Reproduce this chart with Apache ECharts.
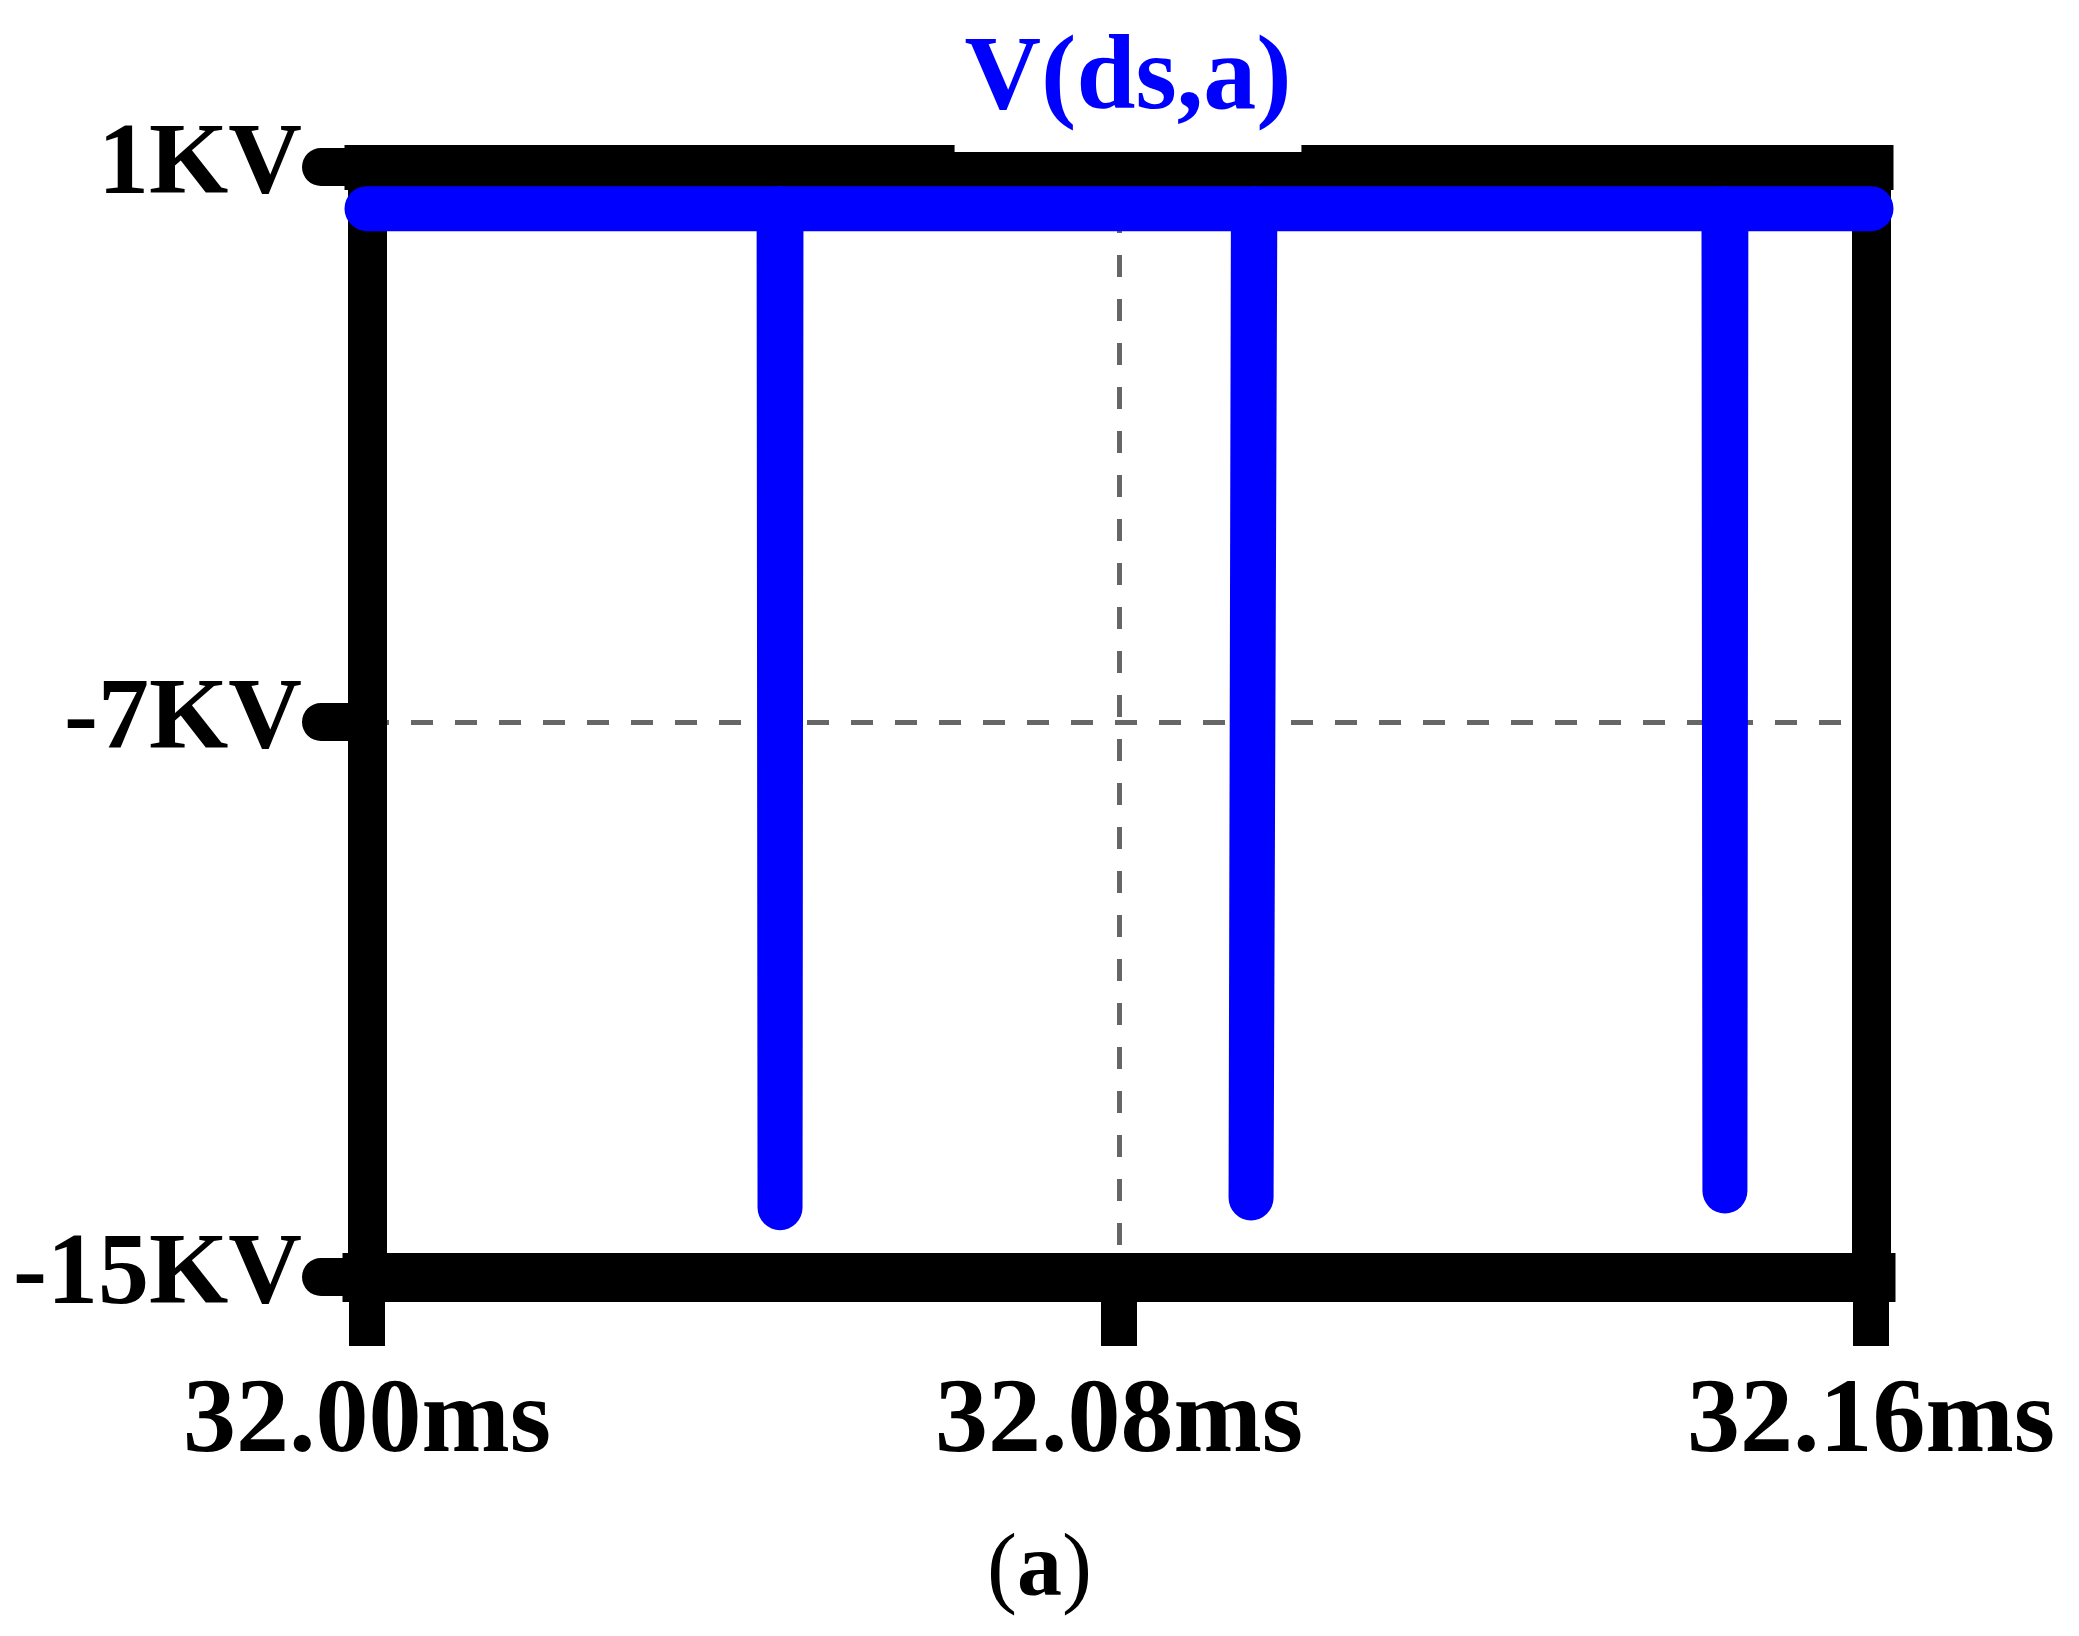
<!DOCTYPE html>
<html>
<head>
<meta charset="utf-8">
<script src="https://cdn.jsdelivr.net/npm/echarts@6/dist/echarts.min.js"></script>
<style>
  html, body { margin: 0; padding: 0; background: #ffffff; }
  #chart { width: 2079px; height: 1636px; }
</style>
</head>
<body>
<div id="chart"></div>
<script>
// ---- data ----
const titleText = 'V(ds,a)';
const captionLetter = 'a';
const xMin = 32.00, xMax = 32.16, xInterval = 0.08;
const yMin = -15, yMax = 1, yInterval = 8;
const xTickLabels = ['32.00ms', '32.08ms', '32.16ms'];
const yTickLabels = ['-15KV', '-7KV', '1KV'];
// V(ds,a) waveform: time in ms, voltage in kV
const timeMs = [32.000, 32.04384, 32.04394, 32.04404, 32.09430, 32.09405, 32.09445, 32.14436, 32.14446, 32.14456, 32.160];
const voltageKV = [0.4, 0.4, -14.0, 0.4, 0.4, -13.86, 0.4, 0.4, -13.76, 0.4, 0.4];

const seriesData = timeMs.map((t, i) => [t, voltageKV[i]]);
const serif = 'Liberation Serif, Times New Roman, serif';

const chart = echarts.init(document.getElementById('chart'), null, { renderer: 'canvas' });
chart.setOption({
  animation: false,
  backgroundColor: '#ffffff',
  title: [
    {
      text: titleText,
      left: 1118,
      textAlign: 'center',
      top: 20,
      padding: [0, 10, 10, 10],
      backgroundColor: '#ffffff',
      textStyle: { color: '#0000ff', fontFamily: serif, fontWeight: 'bold', fontSize: 106, lineHeight: 122 }
    },
    {
      text: '({b|' + captionLetter + '})',
      left: 'center',
      top: 1522,
      textStyle: {
        fontFamily: serif, fontSize: 90, fontWeight: 'normal', color: '#000000',
        rich: {
          b: { fontFamily: serif, fontSize: 90, fontWeight: 'bold', color: '#000000' }
        }
      }
    }
  ],
  grid: { left: 367, right: 208, top: 167, bottom: 359, containLabel: false },
  xAxis: [
    {
      type: 'value', position: 'bottom',
      min: xMin, max: xMax, interval: xInterval,
      axisLine: { show: true, onZero: false, lineStyle: { color: '#000', width: 49, cap: 'square' } },
      axisTick: { show: true, inside: false, length: 69, lineStyle: { color: '#000', width: 36 } },
      axisLabel: {
        show: true, margin: 94, color: '#000', fontFamily: serif, fontWeight: 'bold', fontSize: 106,
        formatter: (v, i) => xTickLabels[i]
      },
      splitLine: { show: true, lineStyle: { color: '#666666', width: 5, type: [22, 22] } }
    },
    {
      type: 'value', position: 'top',
      min: xMin, max: xMax, interval: xInterval,
      axisLine: { show: true, onZero: false, lineStyle: { color: '#000', width: 45, cap: 'square' } },
      axisTick: { show: false }, axisLabel: { show: false }, splitLine: { show: false }
    }
  ],
  yAxis: [
    {
      type: 'value', position: 'left',
      min: yMin, max: yMax, interval: yInterval,
      axisLine: { show: true, onZero: false, lineStyle: { color: '#000', width: 39, cap: 'square' } },
      axisTick: { show: true, inside: false, length: 46, lineStyle: { color: '#000', width: 38, cap: 'round' } },
      axisLabel: {
        show: true, margin: 65, color: '#000', fontFamily: serif, fontWeight: 'bold', fontSize: 102,
        formatter: (v, i) => yTickLabels[i]
      },
      splitLine: { show: true, lineStyle: { color: '#666666', width: 5, type: [22, 22] } }
    },
    {
      type: 'value', position: 'right',
      min: yMin, max: yMax, interval: yInterval,
      axisLine: { show: true, onZero: false, lineStyle: { color: '#000', width: 39, cap: 'square' } },
      axisTick: { show: false }, axisLabel: { show: false }, splitLine: { show: false }
    }
  ],
  series: [
    {
      name: titleText,
      type: 'line',
      xAxisIndex: 0, yAxisIndex: 0,
      data: seriesData,
      showSymbol: false,
      symbol: 'none',
      clip: false,
      z: 3,
      lineStyle: { color: '#0000ff', width: 45, cap: 'round', join: 'round' }
    }
  ]
});
</script>
</body>
</html>
